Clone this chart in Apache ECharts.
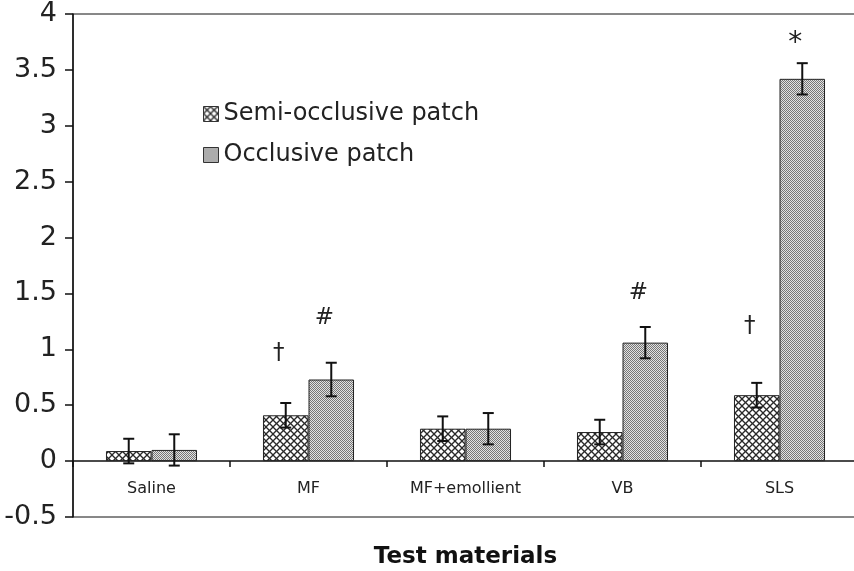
<!DOCTYPE html>
<html>
<head>
<meta charset="utf-8">
<script src="https://cdn.jsdelivr.net/npm/echarts@6/dist/echarts.min.js"></script>
<style>html,body{margin:0;padding:0;background:#fff;}#chart{width:854px;height:571px;}</style>
</head>
<body>
<div id="chart"></div>
<script>
// ---- data ----
const categories = ['Saline', 'MF', 'MF+emollient', 'VB', 'SLS'];
const seriesNames = ['Semi-occlusive patch', 'Occlusive patch'];
const semiValues = [0.09, 0.41, 0.29, 0.26, 0.59];
const semiErrors = [0.11, 0.11, 0.11, 0.11, 0.11];
const occlValues = [0.10, 0.73, 0.29, 1.06, 3.42];
const occlErrors = [0.14, 0.15, 0.14, 0.14, 0.14];
const yTicks = [-0.5, 0, 0.5, 1, 1.5, 2, 2.5, 3, 3.5, 4];
// significance marks: category index, y value, bar (0 semi, 1 occlusive), text
const markCats = [1, 1, 3, 4, 4];
const markVals = [0.97, 1.28, 1.50, 1.21, 3.73];
const markSide = [0, 1, 1, 0, 1];
const markText = ['†', '#', '#', '†', '*'];

// ---- patterns ----
function semiPattern() {
  const c = document.createElement('canvas');
  const s = 7; c.width = s; c.height = s;
  const g = c.getContext('2d');
  g.fillStyle = '#ffffff'; g.fillRect(0, 0, s, s);
  g.strokeStyle = '#2a2a2a'; g.lineWidth = 1.3;
  for (const o of [-s, 0, s]) {
    g.beginPath(); g.moveTo(o, 0); g.lineTo(o + s, s); g.stroke();
    g.beginPath(); g.moveTo(o + s, 0); g.lineTo(o, s); g.stroke();
  }
  return c;
}
function occlPattern() {
  const c = document.createElement('canvas');
  c.width = 2; c.height = 2;
  const g = c.getContext('2d');
  g.fillStyle = '#e2e2e2'; g.fillRect(0, 0, 2, 2);
  g.fillStyle = '#767676'; g.fillRect(0, 0, 1, 1); g.fillRect(1, 1, 1, 1);
  return c;
}
const semiFill = { image: semiPattern(), repeat: 'repeat' };
const occlFill = { image: occlPattern(), repeat: 'repeat' };

const BAR_FRACTION = 0.58; // fraction of category occupied by the pair
const FONT = 'DejaVu Sans';

const errData = [];
semiValues.forEach((v, i) => errData.push([i, v - semiErrors[i], v + semiErrors[i], 0]));
occlValues.forEach((v, i) => errData.push([i, v - occlErrors[i], v + occlErrors[i], 1]));
const markData = markCats.map((c, i) => [c, markVals[i], markSide[i], markText[i]]);

function barCenterX(api, cat, side) {
  const band = api.size([1, 0])[0];
  const bw = band * BAR_FRACTION / 2;
  return api.coord([cat, 0])[0] + (side === 0 ? -bw / 2 : bw / 2);
}

const chart = echarts.init(document.getElementById('chart'), null, { renderer: 'canvas' });
chart.setOption({
  animation: false,
  backgroundColor: '#ffffff',
  textStyle: { fontFamily: FONT },
  grid: { left: 73, top: 14, width: 785, height: 503, containLabel: false, outerBoundsMode: 'none',
          show: true, borderColor: '#111', borderWidth: 1, backgroundColor: 'transparent' },
  legend: {
    orient: 'vertical', left: 198, top: 97, itemGap: 17, itemWidth: 15, itemHeight: 15,
    icon: 'rect',
    data: seriesNames,
    itemStyle: { borderColor: '#333', borderWidth: 1 },
    textStyle: { fontFamily: FONT, fontSize: 24, color: '#222' }
  },
  xAxis: {
    type: 'category', data: categories,
    axisLine: { onZero: true, lineStyle: { color: '#111', width: 1.5 } },
    axisTick: { show: true, length: 6, lineStyle: { color: '#111', width: 1.5 } },
    axisLabel: { fontFamily: FONT, fontSize: 16, color: '#222', margin: -36 },
    name: 'Test materials', nameLocation: 'middle', nameGap: 29,
    nameTextStyle: { fontFamily: FONT, fontSize: 23, fontWeight: 'bold', color: '#111' }
  },
  yAxis: {
    type: 'value', min: yTicks[0], max: yTicks[yTicks.length - 1], interval: yTicks[1] - yTicks[0],
    splitLine: { show: false },
    axisLine: { show: true, lineStyle: { color: '#111', width: 1.5 } },
    axisTick: { show: true, length: 8, lineStyle: { color: '#111', width: 1.5 } },
    axisLabel: { fontFamily: FONT, fontSize: 27, color: '#222', margin: 16 }
  },
  series: [
    { name: seriesNames[0], type: 'bar', data: semiValues, barGap: '0%', barCategoryGap: '42%',
      itemStyle: { color: semiFill, borderColor: '#222', borderWidth: 1 } },
    { name: seriesNames[1], type: 'bar', data: occlValues, barGap: '0%', barCategoryGap: '42%',
      itemStyle: { color: occlFill, borderColor: '#222', borderWidth: 1 } },
    { type: 'custom', z: 5, data: errData, silent: true,
      renderItem: function (params, api) {
        const cat = api.value(0), side = api.value(3);
        const x = barCenterX(api, cat, side);
        const yLo = api.coord([cat, api.value(1)])[1];
        const yHi = api.coord([cat, api.value(2)])[1];
        const cap = 5.5;
        const st = { stroke: '#111', lineWidth: 2 };
        return { type: 'group', children: [
          { type: 'line', shape: { x1: x, y1: yLo, x2: x, y2: yHi }, style: st },
          { type: 'line', shape: { x1: x - cap, y1: yLo, x2: x + cap, y2: yLo }, style: st },
          { type: 'line', shape: { x1: x - cap, y1: yHi, x2: x + cap, y2: yHi }, style: st }
        ] };
      } },
    { type: 'custom', z: 6, data: markData, silent: true,
      renderItem: function (params, api) {
        const item = markData[params.dataIndex];
        const x = barCenterX(api, item[0], item[2]) - 7;
        const y = api.coord([item[0], item[1]])[1];
        return { type: 'text', x: x, y: y, style: {
          text: item[3], fontFamily: FONT, fontSize: item[3] === '*' ? 28 : 23,
          fill: '#222', align: 'center', verticalAlign: 'middle' } };
      } }
  ]
});
</script>
</body>
</html>
